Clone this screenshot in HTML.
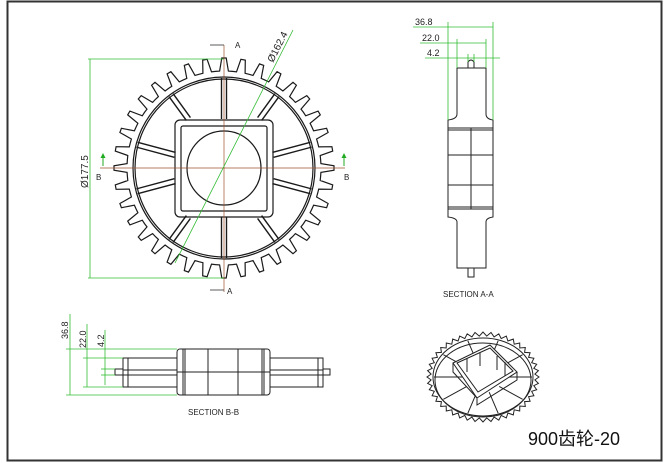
<!DOCTYPE html>
<html><head><meta charset="utf-8">
<style>
html,body{margin:0;padding:0;background:#fff;width:668px;height:463px;overflow:hidden}
svg{display:block}
text{font-family:"Liberation Sans","Noto Sans CJK SC",sans-serif}
</style></head><body>
<svg id="s" width="668" height="463" viewBox="0 0 668 463" xmlns="http://www.w3.org/2000/svg">
<rect x="7.5" y="1.5" width="654" height="459" fill="none" stroke="#333" stroke-width="2"/>
<g id="gear" fill="none" stroke="#1a1a1a" stroke-width="1.2"></g>
<!-- centerlines -->
<g stroke="#a0522d" stroke-width="0.7">
<line x1="100" y1="168" x2="345" y2="168"/>
<line x1="224" y1="45" x2="224" y2="292"/>
</g>
<g stroke="#333" stroke-width="0.8"><line x1="210" y1="45" x2="224" y2="45"/><line x1="210" y1="290" x2="224" y2="290"/></g>
<g font-size="8" fill="#222"><text x="235" y="48">A</text><text x="227" y="294">A</text><text x="96" y="180">B</text><text x="344" y="180">B</text></g>
<g stroke="#2a2" stroke-width="1"><line x1="103" y1="155" x2="103" y2="166"/><line x1="344" y1="155" x2="344" y2="166"/></g>
<g fill="#2a2"><path d="M100.5 158 L103 153 L105.5 158Z"/><path d="M341.5 158 L344 153 L346.5 158Z"/></g>
<!-- dims main -->
<g stroke="#3b3" stroke-width="0.8" fill="none">
<line x1="90" y1="59" x2="90" y2="278"/>
<line x1="88" y1="59" x2="224" y2="59"/>
<line x1="88" y1="278" x2="224" y2="278"/>
<line x1="175" y1="263" x2="293" y2="30"/>
</g>
<text transform="translate(88,188) rotate(-90)" font-size="10" fill="#222">Ø177.5</text>
<text transform="translate(273,63) rotate(-63)" font-size="10" fill="#222">Ø162.4</text>
<!-- section A-A -->
<g fill="none" stroke="#222" stroke-width="1">
<path d="M457 68 H486 V114 Q486 119 493 120 V217 Q486 218 486 222 V268 H457 V222 Q457 218 448 217 V120 Q457 119 457 114 Z"/>
<line x1="448" y1="128" x2="493" y2="128"/><line x1="448" y1="130" x2="493" y2="130"/>
<line x1="448" y1="155" x2="493" y2="155"/><line x1="448" y1="185" x2="493" y2="185"/>
<line x1="448" y1="207" x2="493" y2="207"/><line x1="448" y1="209" x2="493" y2="209"/>
<line x1="471" y1="128" x2="471" y2="209"/>
<path d="M468 68 V62 Q471 58 474 62 V68"/>
<path d="M468 268 V277 H474 V268"/>
</g>
<g stroke="#3b3" stroke-width="0.8">
<line x1="413" y1="27" x2="493" y2="27"/><line x1="448" y1="22" x2="448" y2="120"/><line x1="493" y1="22" x2="493" y2="120"/>
<line x1="420" y1="43" x2="486" y2="43"/><line x1="457" y1="39" x2="457" y2="68"/><line x1="486" y1="39" x2="486" y2="68"/>
<line x1="425" y1="58" x2="500" y2="58"/><line x1="468" y1="54" x2="468" y2="62"/><line x1="474" y1="54" x2="474" y2="62"/>
</g>
<g font-size="9" fill="#222"><text x="415" y="25">36.8</text><text x="422" y="41">22.0</text><text x="427" y="56">4.2</text></g>
<text x="443" y="297" font-size="8" fill="#222">SECTION A-A</text>
<!-- section B-B -->
<g fill="none" stroke="#222" stroke-width="1">
<rect x="177" y="349" width="93" height="46" rx="3"/>
<line x1="183" y1="349" x2="183" y2="395"/><line x1="185" y1="349" x2="185" y2="395"/>
<line x1="208" y1="349" x2="208" y2="395"/><line x1="238" y1="349" x2="238" y2="395"/>
<line x1="262" y1="349" x2="262" y2="395"/><line x1="264" y1="349" x2="264" y2="395"/>
<line x1="177" y1="372" x2="270" y2="372"/>
<rect x="123" y="358" width="54" height="29"/><line x1="123" y1="370" x2="177" y2="370"/><line x1="123" y1="375" x2="177" y2="375"/>
<line x1="128" y1="358" x2="128" y2="387"/>
<rect x="270" y="358" width="53" height="29"/><line x1="270" y1="370" x2="323" y2="370"/><line x1="270" y1="375" x2="323" y2="375"/>
<line x1="318" y1="358" x2="318" y2="387"/>
<rect x="115" y="369" width="8" height="6"/><rect x="323" y="369" width="7" height="6"/>
</g>
<g stroke="#3b3" stroke-width="0.8">
<line x1="70" y1="314" x2="70" y2="395"/><line x1="66" y1="349" x2="177" y2="349"/><line x1="66" y1="395" x2="177" y2="395"/>
<line x1="87" y1="324" x2="87" y2="387"/><line x1="83" y1="358" x2="123" y2="358"/><line x1="83" y1="387" x2="123" y2="387"/>
<line x1="105" y1="330" x2="105" y2="385"/><line x1="101" y1="369" x2="115" y2="369"/><line x1="101" y1="375" x2="115" y2="375"/>
</g>
<g font-size="9" fill="#222">
<text transform="translate(68,339) rotate(-90)">36.8</text>
<text transform="translate(86,348) rotate(-90)">22.0</text>
<text transform="translate(104,347) rotate(-90)">4.2</text>
</g>
<text x="188" y="415" font-size="8" fill="#222">SECTION B-B</text>
<!-- 3D -->
<g id="iso" fill="none" stroke="#222" stroke-width="1"></g>
<text x="528" y="445" font-size="18" fill="#111">900齿轮-20</text>
</svg>
<script>
var ns="http://www.w3.org/2000/svg",cx=224,cy=168;
function el(p,t,a){var e=document.createElementNS(ns,t);for(var k in a)e.setAttribute(k,a[k]);p.appendChild(e);return e;}
var g=document.getElementById('gear');
var N=36,d="";
for(var i=0;i<N;i++){var a0=i*2*Math.PI/N;
 var pts=[[a0-0.045,97],[a0-0.02,110],[a0+0.02,110],[a0+0.045,97],[a0+Math.PI/N,97]];
 pts.forEach(function(p,j){var x=cx+p[1]*Math.sin(p[0]),y=cy-p[1]*Math.cos(p[0]);d+=(i==0&&j==0?"M":"L")+x.toFixed(1)+" "+y.toFixed(1);});}
el(g,'path',{d:d+"Z"});
el(g,'circle',{cx:cx,cy:cy,r:91});el(g,'circle',{cx:cx,cy:cy,r:89});
el(g,'rect',{x:175,y:120,width:98,height:97,rx:5});
el(g,'rect',{x:181,y:126,width:86,height:85,rx:2});
el(g,'circle',{cx:cx,cy:cy,r:37});
[0,180,36,144,216,324,75,105,255,285].forEach(function(deg){var r=deg*Math.PI/180;
 var s=Math.sin(r),c=Math.cos(r);var r1=49/Math.max(Math.abs(s),Math.abs(c));
 [-2.5,2.5].forEach(function(o){
 el(g,'line',{x1:cx+r1*s+o*c,y1:cy-r1*c+o*s,x2:cx+90*s+o*c,y2:cy-90*c+o*s,'stroke-width':1.4});});});
var iso=document.getElementById('iso'),ix=483,iy=377,rx=56,ry=45,dd="";
for(var i=0;i<44;i++){var a=i*2*Math.PI/44,b=a+Math.PI/44;
 dd+=(i?"L":"M")+(ix+rx*Math.cos(a)).toFixed(1)+" "+(iy+ry*Math.sin(a)).toFixed(1)+"L"+(ix+(rx-4)*Math.cos(b)).toFixed(1)+" "+(iy+(ry-4)*Math.sin(b)).toFixed(1);}
el(iso,'path',{d:dd+"Z"});
el(iso,'ellipse',{cx:ix,cy:iy,rx:rx-6,ry:ry-6});el(iso,'ellipse',{cx:ix,cy:iy+3,rx:rx-8,ry:ry-8});
for(var i=0;i<10;i++){var a=i*2*Math.PI/10;el(iso,'line',{x1:ix+20*Math.cos(a),y1:iy+16*Math.sin(a),x2:ix+(rx-7)*Math.cos(a),y2:iy+(ry-7)*Math.sin(a)});}
el(iso,'path',{d:"M453 363 L490 345 L517 372 L477 398 Z",fill:"#fff"});
el(iso,'path',{d:"M457 363 L490 348 L513 371 L478 392 Z"});
el(iso,'path',{d:"M453 363 V372 L477 398 M477 398 V405 L517 380 V372"});
el(iso,'path',{d:"M467 358 V372 M480 352 V366 M497 356 V370 M505 362 V376"});
</script>
</body></html>
